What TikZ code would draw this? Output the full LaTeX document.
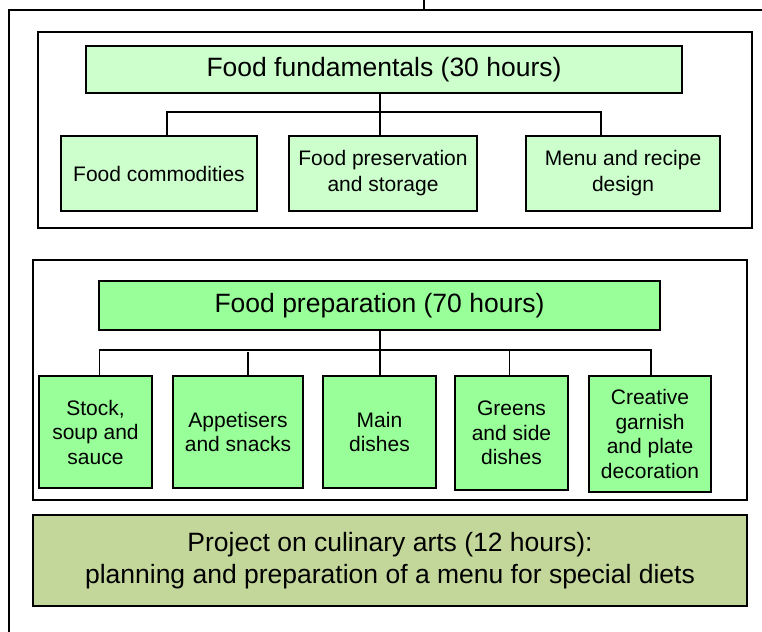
\documentclass[tikz,border=0pt]{standalone}
\usepackage{fontspec}
\setmainfont{Liberation Sans}
\definecolor{lightg}{HTML}{CCFFCC}
\definecolor{midg}{HTML}{99FF99}
\definecolor{oliveg}{HTML}{C4D79B}
\begin{document}
\begin{tikzpicture}[x=1pt,y=-1pt,
  box/.style={draw=black,line width=1.1pt,inner sep=2pt,align=center,text=black},
  frame/.style={draw=black,line width=1.5pt},
  conn/.style={draw=black,line width=1.4pt}]
\useasboundingbox (0,0) rectangle (762,631);
\fill[white] (0,0) rectangle (762,631);
% outer frame and tick
\draw[line width=2pt] (9,640) -- (9,10) -- (775,10);
\coordinate (tickA) at (424,0);
\coordinate (tickB) at (424,10);
\draw[line width=1.2pt] (tickA) -- (tickB);
% containers
\draw[frame] (38,32) rectangle (752,228);
\draw[frame] (33,260) rectangle (747,500);
% top group
\node[box,fill=lightg,minimum width=596,minimum height=47,font=\fontsize{26.5}{30}\selectfont] (t1) at (384,69.5) {Food fundamentals (30 hours)};
\node[box,fill=lightg,minimum width=196,minimum height=75,font=\fontsize{21}{26}\selectfont] (c11) at (159,173.5) {Food commodities};
\node[box,fill=lightg,minimum width=188,minimum height=75,font=\fontsize{21}{26}\selectfont] (c12) at (383,173.5) {Food preservation\\and storage};
\node[box,fill=lightg,minimum width=194,minimum height=75,font=\fontsize{21}{26}\selectfont] (c13) at (623,173.5) {Menu and recipe\\design};
\coordinate (j1) at (380,112);
\draw[conn] (t1.south -| j1) -- (j1);
\draw[conn] ([xshift=8]c11.north) -- ([xshift=8]c11.north |- j1) -- ([xshift=-22]c13.north |- j1) -- ([xshift=-22]c13.north);
\draw[conn] ([xshift=-3]c12.north) -- ([xshift=-3]c12.north |- j1);
% second group
\node[box,fill=midg,minimum width=561,minimum height=49,font=\fontsize{26.5}{30}\selectfont] (t2) at (379.5,305.5) {Food preparation (70 hours)};
\tikzset{sm/.style={box,fill=midg,minimum height=112,font=\fontsize{21}{24.5}\selectfont}}
\node[sm,minimum width=113] (s1) at (95.5,432) {Stock,\\soup and\\sauce};
\node[sm,minimum width=130] (s2) at (238,432) {Appetisers\\and snacks};
\node[sm,minimum width=113] (s3) at (379.5,432) {Main\\dishes};
\node[sm,minimum width=113,minimum height=114] (s4) at (511.5,433) {Greens\\and side\\dishes};
\node[sm,minimum width=122,minimum height=116] (s5) at (650,434) {Creative\\garnish\\and plate\\decoration};
\coordinate (j2) at (380,350);
\draw[conn] (t2.south -| j2) -- (s3.north -| j2);
\draw[conn] ([xshift=4]s1.north) -- ([xshift=4]s1.north |- j2) -- ([xshift=1]s5.north |- j2) -- ([xshift=1]s5.north);
\draw[conn] ([xshift=10]s2.north) -- ([xshift=10,yshift=-2]s2.north |- j2);
\draw[conn] ([xshift=-2]s4.north) -- ([xshift=-2]s4.north |- j2);
% project
\node[box,fill=oliveg,minimum width=714,minimum height=91,font=\fontsize{26.5}{32}\selectfont] (p) at (390,560.5) {Project on culinary arts (12 hours):\\planning and preparation of a menu for special diets};
\end{tikzpicture}
\end{document}
